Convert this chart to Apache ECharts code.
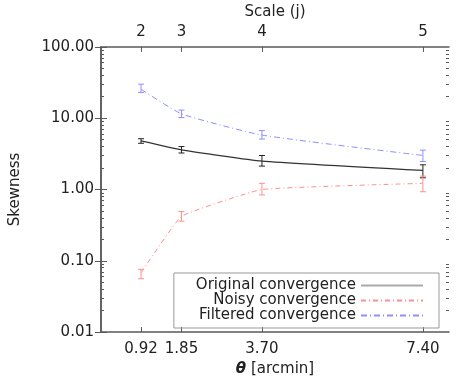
<!DOCTYPE html>
<html>
<head>
<meta charset="utf-8">
<script src="https://cdn.jsdelivr.net/npm/echarts@6/dist/echarts.min.js"></script>
<style>
  html, body { margin: 0; padding: 0; background: #fff; }
  #chart { width: 469px; height: 382px; }
</style>
</head>
<body>
<div id="chart"></div>
<script>
// angular scales (arcmin) and their wavelet scale index
const thetaTicks = [0.92, 1.85, 3.70, 7.40];
const scaleLabels = ["2", "3", "4", "5"];
const yMajor = [0.01, 0.1, 1, 10, 100];
const yMinor = [0.02, 0.03, 0.04, 0.05, 0.06, 0.07, 0.08, 0.09,
  0.2, 0.3, 0.4, 0.5, 0.6, 0.7, 0.8, 0.9,
  2, 3, 4, 5, 6, 7, 8, 9,
  20, 30, 40, 50, 60, 70, 80, 90];

// skewness values with error ranges [low, high]
const originalVals = [4.8, 3.6, 2.5, 1.85];
const originalLow = [4.45, 3.25, 2.13, 1.46];
const originalHigh = [5.15, 4.0, 3.0, 2.22];

const noisyVals = [0.068, 0.42, 1.0, 1.22];
const noisyLow = [0.056, 0.36, 0.84, 0.93];
const noisyHigh = [0.076, 0.49, 1.22, 1.54];

const filteredVals = [25.5, 11.5, 5.8, 3.0];
const filteredLow = [23, 10.2, 5.1, 2.47];
const filteredHigh = [30, 13.0, 6.7, 3.57];

const chart = echarts.init(document.getElementById("chart"));

const font = "DejaVu Sans";
const fs = 15;
const txt = "#222";
const frame = "#5a5a5a";

const pts = (vals) => vals.map((v, i) => [thetaTicks[i], v]);
const bars = (lo, hi) => lo.map((v, i) => [thetaTicks[i], v, hi[i]]);

// error bars as a custom series
const errorBars = (data, color) => ({
  type: "custom",
  xAxisIndex: 0,
  yAxisIndex: 0,
  data: data,
  z: 3,
  renderItem: (params, api) => {
    const top = api.coord([api.value(0), api.value(2)]);
    const bot = api.coord([api.value(0), api.value(1)]);
    const w = 3;
    const style = { stroke: color, lineWidth: 1 };
    return {
      type: "group",
      children: [
        { type: "line", shape: { x1: top[0], y1: top[1], x2: bot[0], y2: bot[1] }, style },
        { type: "line", shape: { x1: top[0] - w, y1: top[1], x2: top[0] + w, y2: top[1] }, style },
        { type: "line", shape: { x1: bot[0] - w, y1: bot[1], x2: bot[0] + w, y2: bot[1] }, style },
      ],
    };
  },
});

const minorAxis = (position) => ({
  type: "log",
  min: 0.01,
  max: 100,
  position: position,
  axisLine: { show: false },
  axisLabel: { show: false },
  splitLine: { show: false },
  axisTick: { inside: true, length: 3, customValues: yMinor, lineStyle: { color: frame } },
});

const option = {
  animation: false,
  backgroundColor: "#fff",
  textStyle: { fontFamily: font, color: txt },
  grid: { left: 99, right: 20, top: 37, bottom: 49 },
  legend: {
    orient: "vertical",
    right: 30,
    top: 273,
    align: "right",
    padding: [5, 15, 5, 22],
    itemGap: 0,
    itemWidth: 62,
    itemHeight: 13,
    borderColor: "#999",
    borderWidth: 1,
    itemStyle: { opacity: 0 },
    data: [
      { name: "Original convergence", lineStyle: { color: "#aaa" } },
      { name: "Noisy convergence" },
      { name: "Filtered convergence" },
    ],
    textStyle: { fontFamily: font, fontSize: fs, color: txt },
  },
  xAxis: [
    {
      type: "value",
      min: 0,
      max: 8,
      position: "bottom",
      name: "{t|θ} [arcmin]",
      nameLocation: "middle",
      nameGap: 28,
      nameTextStyle: {
        fontSize: fs,
        color: txt,
        rich: { t: { fontStyle: "italic", fontWeight: "bold", fontSize: fs, color: txt } },
      },
      axisLine: { lineStyle: { color: frame, width: 1.5 } },
      axisTick: { inside: true, length: 5, customValues: thetaTicks, lineStyle: { color: frame } },
      axisLabel: {
        customValues: thetaTicks,
        formatter: (v) => v.toFixed(2),
        fontSize: fs,
        color: txt,
        margin: 10,
      },
      splitLine: { show: false },
    },
    {
      type: "value",
      min: 0,
      max: 8,
      position: "top",
      name: "Scale (j)",
      nameLocation: "middle",
      nameGap: 25,
      nameTextStyle: { fontSize: fs, color: txt },
      axisLine: { lineStyle: { color: frame, width: 1.5 } },
      axisTick: { inside: true, length: 5, customValues: thetaTicks, lineStyle: { color: frame } },
      axisLabel: {
        customValues: thetaTicks,
        formatter: (v) => scaleLabels[thetaTicks.indexOf(v)],
        fontSize: fs,
        color: txt,
        margin: 7,
      },
      splitLine: { show: false },
    },
  ],
  yAxis: [
    {
      type: "log",
      min: 0.01,
      max: 100,
      position: "left",
      name: "Skewness",
      nameLocation: "middle",
      nameGap: 78,
      nameTextStyle: { fontSize: fs, color: txt },
      axisLine: { show: true, lineStyle: { color: frame, width: 1.5 } },
      axisTick: { inside: true, length: 6, customValues: yMajor, lineStyle: { color: frame } },
      axisLabel: {
        customValues: yMajor,
        formatter: (v) => v.toFixed(2),
        fontSize: fs,
        color: txt,
        margin: 7,
      },
      splitLine: { show: false },
    },
    {
      type: "log",
      min: 0.01,
      max: 100,
      position: "right",
      axisLine: { show: true, lineStyle: { color: frame, width: 1.5 } },
      axisTick: { inside: true, length: 6, customValues: yMajor, lineStyle: { color: frame } },
      axisLabel: { show: false },
      splitLine: { show: false },
    },
    minorAxis("left"),
    minorAxis("right"),
  ],
  series: [
    {
      name: "Original convergence",
      type: "line",
      data: pts(originalVals),
      symbol: "none",
      smooth: 0.15,
      color: "#333",
      lineStyle: { color: "#333", width: 1.2, type: "solid" },
      z: 4,
    },
    {
      name: "Noisy convergence",
      type: "line",
      data: pts(noisyVals),
      symbol: "none",
      smooth: 0.1,
      color: "#ff8f8f",
      lineStyle: { color: "#ff8f8f", width: 1, type: [5, 3, 1, 3] },
    },
    {
      name: "Filtered convergence",
      type: "line",
      data: pts(filteredVals),
      symbol: "none",
      smooth: 0.15,
      color: "#8f8fff",
      lineStyle: { color: "#8f8fff", width: 1, type: [6, 3, 1, 3] },
    },
    errorBars(bars(originalLow, originalHigh), "#222"),
    errorBars(bars(noisyLow, noisyHigh), "#ff8f8f"),
    errorBars(bars(filteredLow, filteredHigh), "#8f8fff"),
  ],
};

chart.setOption(option);
</script>
</body>
</html>
